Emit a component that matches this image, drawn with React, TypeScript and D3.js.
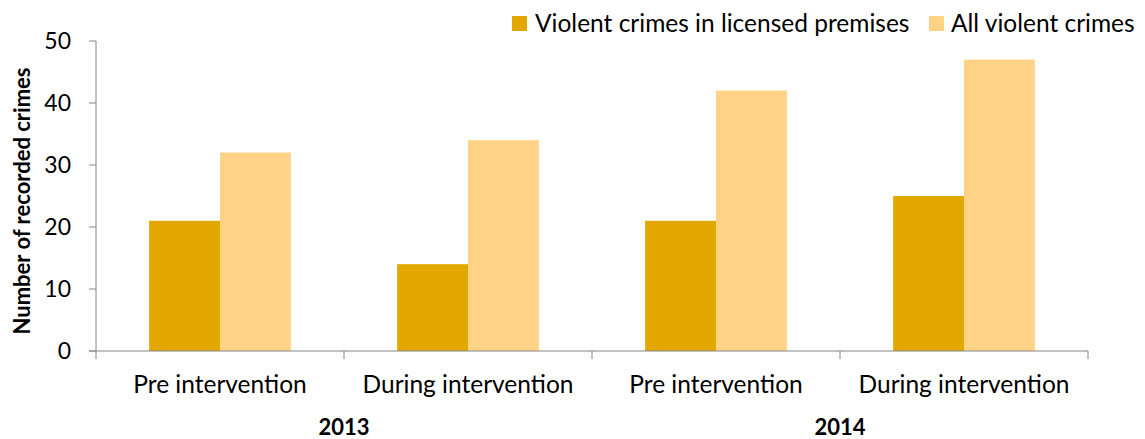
import React from "react";
import * as d3 from "d3";

const categories = ["Pre intervention", "During intervention", "Pre intervention", "During intervention"];
const years = ["2013", "2014"];
const seriesNames = ["Violent crimes in licensed premises", "All violent crimes"];
const licensedValues = [21, 14, 21, 25];
const allValues = [32, 34, 42, 47];
const yTicks = [0, 10, 20, 30, 40, 50];
const colors = ["#E2A800", "#FFD386"];

const W = 1145;
const H = 439;
const margin = { left: 96, right: 57, top: 41, bottom: 88 };
const FONT = "Lato, 'Open Sans', sans-serif";
const LABEL_SIZE = 24.5;

export default function App() {
  const x0 = d3
    .scaleBand<number>()
    .domain(categories.map((_, i) => i))
    .range([margin.left, W - margin.right])
    .paddingInner(0)
    .paddingOuter(0);
  const band = x0.bandwidth();
  const barW = band / 3.5;
  const x1 = d3.scaleBand<number>().domain([0, 1]).range([0, barW * 2]);
  const y = d3.scaleLinear().domain([0, 50]).range([H - margin.bottom, margin.top]);
  const series = [licensedValues, allValues];
  const axisColor = "#868686";
  const xLeft = margin.left;
  const xRight = W - margin.right;
  const yBase = y(0);

  return (
    <svg
      width={W}
      height={H}
      style={{ position: "absolute", left: 0, top: 0, background: "#fff" }}
      fontFamily={FONT}
    >
      {/* bars */}
      {categories.map((_, i) =>
        series.map((vals, s) => {
          const bx = (x0(i) as number) + (band - barW * 2) / 2 + (x1(s) as number);
          return (
            <rect
              key={`${i}-${s}`}
              x={bx}
              y={y(vals[i])}
              width={barW}
              height={yBase - y(vals[i])}
              fill={colors[s]}
            />
          );
        })
      )}

      {/* y axis */}
      <line x1={xLeft} x2={xLeft} y1={y(50)} y2={yBase} stroke={axisColor} strokeWidth={1} />
      {yTicks.map((t) => (
        <g key={t}>
          <line x1={xLeft - 7} x2={xLeft} y1={y(t)} y2={y(t)} stroke={axisColor} />
          <text x={xLeft - 25} y={y(t)} dy="0.36em" textAnchor="end" fontSize={23} fill="#000">
            {t}
          </text>
        </g>
      ))}

      {/* x axis */}
      <line x1={xLeft - 7} x2={xRight} y1={yBase} y2={yBase} stroke={axisColor} />
      {d3.range(categories.length + 1).map((i) => {
        const tx = i < categories.length ? (x0(i) as number) : xRight;
        return <line key={i} x1={tx} x2={tx} y1={yBase} y2={yBase + 8} stroke={axisColor} />;
      })}
      {categories.map((c, i) => (
        <text
          key={i}
          x={(x0(i) as number) + band / 2}
          y={yBase + 42}
          textAnchor="middle"
          fontSize={LABEL_SIZE}
          fill="#000"
        >
          {c}
        </text>
      ))}
      {years.map((yr, k) => (
        <text
          key={yr}
          x={(x0(k * 2) as number) + band}
          y={yBase + 84}
          textAnchor="middle"
          fontSize={22}
          fontWeight="bold"
          fill="#000"
        >
          {yr}
        </text>
      ))}

      {/* y axis title */}
      <text
        transform={`translate(30, ${(y(50) + yBase) / 2 + 5}) rotate(-90)`}
        textAnchor="middle"
        fontSize={22}
        fontWeight="bold"
        fill="#000"
      >
        Number of recorded crimes
      </text>

      {/* legend */}
      <rect x={512} y={16} width={15} height={15} fill={colors[0]} />
      <text x={535} y={32} fontSize={LABEL_SIZE} fill="#000">
        {seriesNames[0]}
      </text>
      <rect x={929} y={16} width={15} height={15} fill={colors[1]} />
      <text x={951} y={32} fontSize={LABEL_SIZE} fill="#000">
        {seriesNames[1]}
      </text>
    </svg>
  );
}
